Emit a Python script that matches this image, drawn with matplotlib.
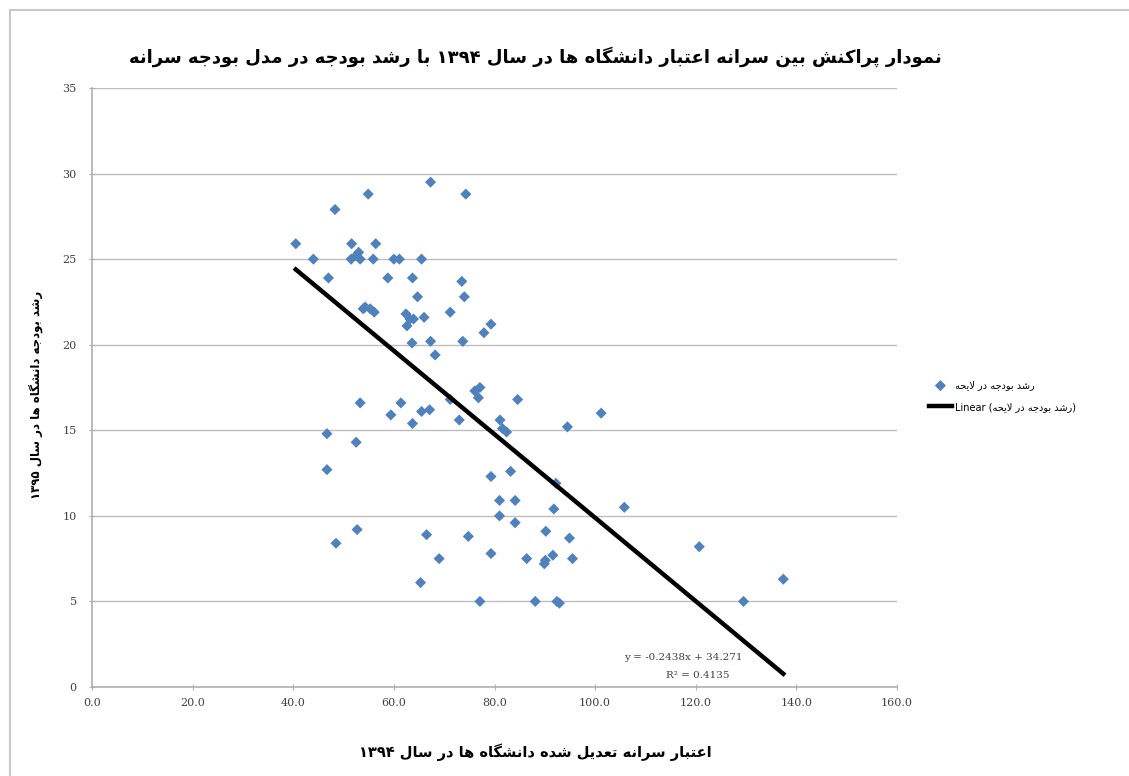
import re
import matplotlib
matplotlib.use("Agg")
import matplotlib.pyplot as plt
from matplotlib.lines import Line2D
import numpy as np

# university budget data
credit_1394 = [40.5, 44.0, 47.0, 48.3, 54.9, 51.6, 56.4, 51.5, 52.5, 53.3, 53.0,
               55.9, 60.0, 61.1, 65.5, 58.8, 63.7, 64.7, 73.5, 74.0, 54.3, 53.9,
               55.3, 56.1, 62.4, 63.9, 63.2, 66.0, 62.6, 71.2, 79.3, 77.9, 73.7,
               63.6, 67.3, 68.2, 67.3, 74.3, 53.3, 61.4, 59.4, 63.7, 65.5, 67.1,
               71.2, 76.1, 77.1, 76.8, 73.0, 84.6, 81.1, 81.6, 82.4, 46.7, 52.5,
               46.7, 83.2, 79.3, 81.0, 84.1, 81.0, 84.1, 52.7, 48.5, 66.5, 74.8,
               69.0, 79.3, 86.4, 65.3, 77.1, 88.1, 101.2, 94.5, 92.2, 91.8, 105.8,
               90.2, 94.9, 90.1, 89.9, 91.6, 95.5, 120.7, 137.4, 92.4, 92.9, 129.5]
growth_1395 = [25.9, 25.0, 23.9, 27.9, 28.8, 25.9, 25.9, 25.0, 25.2, 25.0, 25.4,
               25.0, 25.0, 25.0, 25.0, 23.9, 23.9, 22.8, 23.7, 22.8, 22.2, 22.1,
               22.1, 21.9, 21.8, 21.5, 21.5, 21.6, 21.1, 21.9, 21.2, 20.7, 20.2,
               20.1, 20.2, 19.4, 29.5, 28.8, 16.6, 16.6, 15.9, 15.4, 16.1, 16.2,
               16.8, 17.3, 17.5, 16.9, 15.6, 16.8, 15.6, 15.1, 14.9, 14.8, 14.3,
               12.7, 12.6, 12.3, 10.9, 10.9, 10.0, 9.6, 9.2, 8.4, 8.9, 8.8,
               7.5, 7.8, 7.5, 6.1, 5.0, 5.0, 16.0, 15.2, 11.9, 10.4, 10.5,
               9.1, 8.7, 7.4, 7.2, 7.7, 7.5, 8.2, 6.3, 5.0, 4.9, 5.0]

slope = -0.2438
intercept = 34.271
r2 = 0.4135

title_fa = "نمودار پراکنش بین سرانه اعتبار دانشگاه ها در سال ۱۳۹۴ با رشد بودجه در مدل بودجه سرانه"
xlabel_fa = "اعتبار سرانه تعدیل شده دانشگاه ها در سال ۱۳۹۴"
ylabel_fa = "رشد بودجه دانشگاه ها در سال ۱۳۹۵"
series_fa = "رشد بودجه در لایحه"

# simple persian shaping (matplotlib has no complex text layout)
FORMS = {
    'ا': (0xFE8D, 0xFE8E, None, None), 'ب': (0xFE8F, 0xFE90, 0xFE91, 0xFE92),
    'ت': (0xFE95, 0xFE96, 0xFE97, 0xFE98), 'ج': (0xFE9D, 0xFE9E, 0xFE9F, 0xFEA0),
    'ح': (0xFEA1, 0xFEA2, 0xFEA3, 0xFEA4), 'د': (0xFEA9, 0xFEAA, None, None),
    'ر': (0xFEAD, 0xFEAE, None, None), 'س': (0xFEB1, 0xFEB2, 0xFEB3, 0xFEB4),
    'ش': (0xFEB5, 0xFEB6, 0xFEB7, 0xFEB8), 'ع': (0xFEC9, 0xFECA, 0xFECB, 0xFECC),
    'ل': (0xFEDD, 0xFEDE, 0xFEDF, 0xFEE0), 'م': (0xFEE1, 0xFEE2, 0xFEE3, 0xFEE4),
    'ن': (0xFEE5, 0xFEE6, 0xFEE7, 0xFEE8), 'ه': (0xFEE9, 0xFEEA, 0xFEEB, 0xFEEC),
    'و': (0xFEED, 0xFEEE, None, None), 'پ': (0xFB56, 0xFB57, 0xFB58, 0xFB59),
    'ک': (0xFB8E, 0xFB8F, 0xFB90, 0xFB91), 'گ': (0xFB92, 0xFB93, 0xFB94, 0xFB95),
    'ی': (0xFBFC, 0xFBFD, 0xFBFE, 0xFBFF),
}


def shape(text):
    out = []
    i = 0
    n = len(text)
    while i < n:
        c = text[i]
        if c not in FORMS:
            out.append(c)
            i += 1
            continue
        prev = text[i - 1] if i > 0 else ''
        join_prev = prev in FORMS and FORMS[prev][2] is not None
        nxt = text[i + 1] if i + 1 < n else ''
        if c == 'ل' and nxt == 'ا':
            out.append(chr(0xFEFC if join_prev else 0xFEFB))
            i += 2
            continue
        join_next = FORMS[c][2] is not None and nxt in FORMS
        f = FORMS[c]
        if join_prev and join_next:
            out.append(chr(f[3]))
        elif join_prev:
            out.append(chr(f[1]))
        elif join_next:
            out.append(chr(f[2]))
        else:
            out.append(chr(f[0]))
        i += 1
    vis = ''.join(out)[::-1]
    return re.sub(r'[\u06F0-\u06F90-9.]+', lambda m: m.group(0)[::-1], vis)


W, H = 1129, 776
fig = plt.figure(figsize=(W / 100, H / 100), dpi=100)
# chart area border (only left and top visible in the crop)
fig.lines.append(Line2D([10 / W, 10 / W], [0, 1 - 10 / H], transform=fig.transFigure,
                        color='#C8C8C8', linewidth=1.5))
fig.lines.append(Line2D([10 / W, 1], [1 - 10 / H, 1 - 10 / H], transform=fig.transFigure,
                        color='#C8C8C8', linewidth=1.5))

ax = fig.add_axes([92 / W, (H - 687) / H, 805 / W, 599 / H])
pts = ax.scatter(credit_1394, growth_1395, marker='D', s=32, color='#4F81BD',
                 edgecolors='none', zorder=3, label=shape(series_fa))
xs = np.array([min(credit_1394), max(credit_1394)])
trend, = ax.plot(xs, slope * xs + intercept, color='black', linewidth=3.2, zorder=4,
                 label="Linear (" + shape(series_fa) + ")")

ax.set_xlim(0, 160)
ax.set_ylim(0, 35)
ax.set_xticks(np.arange(0, 161, 20))
ax.set_xticklabels(["%.1f" % v for v in np.arange(0, 161, 20)])
ax.set_yticks(np.arange(0, 36, 5))
ax.yaxis.grid(True, color='#BEBEBE', linewidth=1)
ax.set_axisbelow(True)
for s in ['top', 'right']:
    ax.spines[s].set_visible(False)
for s in ['left', 'bottom']:
    ax.spines[s].set_color('#B0B0B0')
    ax.spines[s].set_linewidth(1.2)
ax.tick_params(axis='both', colors='#B0B0B0', labelcolor='#404040', labelsize=8,
               length=4, direction='inout')
ax.tick_params(axis='y', pad=9)
ax.tick_params(axis='x', pad=6)
for lab in ax.get_xticklabels() + ax.get_yticklabels():
    lab.set_family('DejaVu Serif')

# trendline equation, placed in pixel coords measured from the top
fig.text(683 / W, 1 - 657 / H, "y = -0.2438x + 34.271", fontsize=7.5, family='DejaVu Serif',
         color='#404040', ha='center', va='center')
fig.text(698 / W, 1 - 676 / H, "R² = %.4f" % r2, fontsize=7.5, family='DejaVu Serif',
         color='#404040', ha='center', va='center')

fig.text(535 / W, 1 - 57 / H, shape(title_fa), ha='center', va='center',
         fontsize=13, fontweight='bold')
fig.text(535 / W, 1 - 752 / H, shape(xlabel_fa), ha='center', va='center',
         fontsize=10.5, fontweight='bold')
fig.text(37 / W, 1 - 395 / H, shape(ylabel_fa), ha='center', va='center',
         rotation=90, fontsize=8.5, fontweight='bold')

fig.legend(handles=[pts, trend], loc='center left', bbox_to_anchor=(920 / W, 1 - 396 / H),
           frameon=False, fontsize=7, handlelength=2.4, labelspacing=1.2,
           handletextpad=0.3)

fig.savefig("out.png", dpi=100)
